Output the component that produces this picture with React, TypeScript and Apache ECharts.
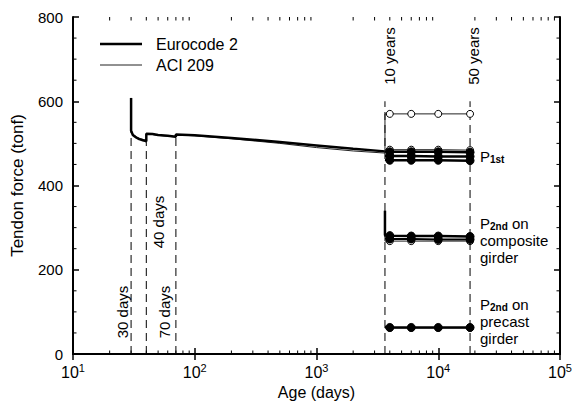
import { useEffect, useRef } from 'react';
import * as echarts from 'echarts';

// Main time-history curves (age in days, tendon force in tonf)
const ecAges = [30, 30, 31, 33, 35, 38, 40, 40, 45, 50, 60, 70, 70, 100, 200, 500, 1000, 2000, 3650];
const ecForce = [608, 530, 520, 514, 510, 507, 505, 523, 522, 520, 518, 516, 521, 519, 513, 503, 495, 487, 481];
const aciAges = [30, 30, 31, 33, 35, 38, 40, 40, 45, 50, 60, 70, 70, 100, 200, 500, 1000, 2000, 3650];
const aciForce = [608, 532, 522, 516, 512, 509, 507, 522, 521, 519, 517, 515, 520, 518, 511, 500, 490, 482, 477];

// Long-term points (10 years .. 50 years)
const longAges = [3650, 4000, 6000, 10000, 18250];
const aciUpper = [570, 570, 570, 570, 570];
const aciP1st = [485, 485, 485, 485, 484];
const ecP1stA = [481, 480, 480, 480, 479];
const ecP1stB = [470, 470, 470, 469, 469];
const ecP1stC = [461, 460, 460, 460, 459];
const ecCompositeStart = 340;
const ecComposite = [282, 281, 280, 280, 279];
const ecCompositeB = [274, 273, 273, 272, 272];
const aciComposite = [268, 268, 268, 268, 268];
const ecPrecast = [64, 63, 63, 63, 63];
const aciPrecast = [62, 62, 62, 62, 62];

// Dashed reference lines
const refAges = [30, 40, 70, 3650, 18250];
const refTops = [530, 505, 516, 600, 600];

// Axis ticks
const yTicks = [0, 200, 400, 600, 800];
const yMinorTicks = [50, 100, 150, 250, 300, 350, 450, 500, 550, 650, 700, 750];
const xMinorTicks = [
  20, 30, 40, 50, 60, 70, 80, 90,
  200, 300, 400, 500, 600, 700, 800, 900,
  2000, 3000, 4000, 5000, 6000, 7000, 8000, 9000,
  20000, 30000, 40000, 50000, 60000, 70000, 80000, 90000,
];

const FONT = '"Liberation Sans", Arial, sans-serif';

function longSeries(values: number[], start: number | null, filled: boolean, width: number) {
  const data: any[] = [];
  if (start !== null) data.push({ value: [longAges[0], start], symbol: 'none' });
  longAges.forEach((a, i) => {
    data.push(i === 0 ? { value: [a, values[i]], symbol: 'none' } : { value: [a, values[i]] });
  });
  return {
    type: 'line',
    data,
    symbol: 'circle',
    symbolSize: filled ? 8 : 7,
    showSymbol: true,
    lineStyle: { color: filled ? '#000' : '#222', width },
    itemStyle: filled
      ? { color: '#000', borderColor: '#000', borderWidth: 1 }
      : { color: '#fff', borderColor: '#000', borderWidth: 1 },
    z: filled ? 4 : 3,
  };
}

const richSub = {
  p: { fontFamily: FONT, fontSize: 15, fill: '#000', lineHeight: 16 },
  s: { fontFamily: FONT, fontSize: 10, fontWeight: 'bold', fill: '#000', lineHeight: 16, verticalAlign: 'bottom' },
};

export default function App() {
  const ref = useRef<HTMLDivElement>(null);
  useEffect(() => {
    if (!ref.current) return;
    const chart = echarts.init(ref.current, null, { renderer: 'svg' });

    const dashed = refAges.map((a, i) => ({
      type: 'line',
      data: [[a, 0], [a, refTops[i]]],
      symbol: 'none',
      lineStyle: { color: '#000', width: 1, type: [8, 5] },
      z: 1,
    }));

    const axisCommon = {
      type: 'log',
      logBase: 10,
      min: 10,
      max: 100000,
      axisLine: { show: true, lineStyle: { color: '#000', width: 2 } },
      axisTick: { show: true, inside: true, length: 6, lineStyle: { color: '#000', width: 1.5 } },
      splitLine: { show: false },
    };
    const yCommon = {
      type: 'value',
      min: 0,
      max: 800,
      interval: 200,
      axisLine: { show: true, lineStyle: { color: '#000', width: 2 } },
      axisTick: { show: true, inside: true, length: 6, lineStyle: { color: '#000', width: 1.5 } },
      splitLine: { show: false },
    };

    chart.setOption({
      animation: false,
      grid: { left: 73, right: 23, top: 17, bottom: 55 },
      xAxis: [
        {
          ...axisCommon,
          position: 'bottom',
          name: 'Age (days)',
          nameLocation: 'middle',
          nameGap: 24,
          nameTextStyle: { fontFamily: FONT, fontSize: 16, color: '#000' },
          axisLabel: {
            color: '#000',
            margin: 8,
            formatter: (v: number) => `10{sup|${Math.round(Math.log10(v))}}`,
            fontFamily: FONT,
            fontSize: 16,
            rich: {
              sup: { fontFamily: FONT, fontSize: 11, color: '#000', verticalAlign: 'bottom', padding: [0, 0, 9, 0] },
            },
          },
        },
        { ...axisCommon, position: 'top', axisLabel: { show: false } },
      ],
      yAxis: [
        {
          ...yCommon,
          position: 'left',
          name: 'Tendon force (tonf)',
          nameLocation: 'middle',
          nameGap: 47,
          nameTextStyle: { fontFamily: FONT, fontSize: 17, color: '#000' },
          axisLabel: {
            color: '#000',
            fontFamily: FONT,
            fontSize: 15,
            margin: 10,
            formatter: (v: number) => (yTicks.includes(v) ? String(v) : ''),
          },
        },
        { ...yCommon, position: 'right', axisLabel: { show: false } },
      ],
      series: [
        ...dashed,
        {
          type: 'custom',
          data: xMinorTicks.map((v) => [v]),
          renderItem: (_p: any, api: any) => {
            const v = api.value(0);
            const b = api.coord([v, 0]);
            const t = api.coord([v, 800]);
            return {
              type: 'group',
              children: [
                { type: 'line', shape: { x1: b[0], y1: b[1], x2: b[0], y2: b[1] - 3.5 }, style: { stroke: '#000', lineWidth: 1 } },
                { type: 'line', shape: { x1: t[0], y1: t[1], x2: t[0], y2: t[1] + 3.5 }, style: { stroke: '#000', lineWidth: 1 } },
              ],
            };
          },
          z: 5,
        },
        {
          type: 'custom',
          data: yMinorTicks.map((v) => [10, v]),
          renderItem: (_p: any, api: any) => {
            const v = api.value(1);
            const l = api.coord([10, v]);
            const r = api.coord([100000, v]);
            return {
              type: 'group',
              children: [
                { type: 'line', shape: { x1: l[0], y1: l[1], x2: l[0] + 3.5, y2: l[1] }, style: { stroke: '#000', lineWidth: 1 } },
                { type: 'line', shape: { x1: r[0], y1: r[1], x2: r[0] - 3.5, y2: r[1] }, style: { stroke: '#000', lineWidth: 1 } },
              ],
            };
          },
          z: 5,
        },
        {
          type: 'line',
          name: 'ACI 209',
          data: aciAges.map((a, i) => [a, aciForce[i]]),
          symbol: 'none',
          lineStyle: { color: '#222', width: 1 },
          z: 2,
        },
        {
          type: 'line',
          name: 'Eurocode 2',
          data: ecAges.map((a, i) => [a, ecForce[i]]),
          symbol: 'none',
          lineStyle: { color: '#000', width: 2.5 },
          z: 3,
        },
        longSeries(aciUpper, aciForce[aciForce.length - 1], false, 1),
        longSeries(aciP1st, null, false, 1),
        longSeries(ecP1stA, null, true, 2.5),
        longSeries(ecP1stB, null, true, 2.5),
        longSeries(ecP1stC, null, true, 2.5),
        longSeries(ecComposite, ecCompositeStart, true, 2.5),
        longSeries(ecCompositeB, null, true, 2),
        longSeries(aciComposite, ecCompositeStart, false, 1),
        longSeries(ecPrecast, null, true, 2.5),
        longSeries(aciPrecast, null, false, 1),
      ],
      graphic: [
        { type: 'line', shape: { x1: 100, y1: 44, x2: 142, y2: 44 }, style: { stroke: '#000', lineWidth: 2.5 } },
        { type: 'line', shape: { x1: 100, y1: 65, x2: 142, y2: 65 }, style: { stroke: '#222', lineWidth: 1 } },
        { type: 'text', x: 156, y: 44, style: { text: 'Eurocode 2', font: `16px ${FONT}`, fill: '#000', verticalAlign: 'middle' } },
        { type: 'text', x: 156, y: 65, style: { text: 'ACI 209', font: `16px ${FONT}`, fill: '#000', verticalAlign: 'middle' } },
        // rotated labels
        { type: 'text', x: 122, y: 312, rotation: Math.PI / 2, style: { text: '30 days', font: `15px ${FONT}`, fill: '#000', align: 'center', verticalAlign: 'middle' } },
        { type: 'text', x: 158, y: 222, rotation: Math.PI / 2, style: { text: '40 days', font: `15px ${FONT}`, fill: '#000', align: 'center', verticalAlign: 'middle' } },
        { type: 'text', x: 164, y: 312, rotation: Math.PI / 2, style: { text: '70 days', font: `15px ${FONT}`, fill: '#000', align: 'center', verticalAlign: 'middle' } },
        { type: 'text', x: 389, y: 56, rotation: Math.PI / 2, style: { text: '10 years', font: `15px ${FONT}`, fill: '#000', align: 'center', verticalAlign: 'middle' } },
        { type: 'text', x: 473, y: 56, rotation: Math.PI / 2, style: { text: '50 years', font: `15px ${FONT}`, fill: '#000', align: 'center', verticalAlign: 'middle' } },
        // annotations
        { type: 'text', x: 480, y: 156, style: { text: '{p|P}{s|1st}', verticalAlign: 'middle', rich: richSub } },
        { type: 'text', x: 480, y: 223, style: { text: '{p|P}{s|2nd}{p| on}', verticalAlign: 'middle', rich: richSub } },
        { type: 'text', x: 480, y: 240, style: { text: 'composite', font: `15px ${FONT}`, fill: '#000', verticalAlign: 'middle' } },
        { type: 'text', x: 480, y: 257, style: { text: 'girder', font: `15px ${FONT}`, fill: '#000', verticalAlign: 'middle' } },
        { type: 'text', x: 480, y: 304, style: { text: '{p|P}{s|2nd}{p| on}', verticalAlign: 'middle', rich: richSub } },
        { type: 'text', x: 480, y: 321, style: { text: 'precast', font: `15px ${FONT}`, fill: '#000', verticalAlign: 'middle' } },
        { type: 'text', x: 480, y: 338, style: { text: 'girder', font: `15px ${FONT}`, fill: '#000', verticalAlign: 'middle' } },
      ],
    });
    return () => chart.dispose();
  }, []);
  return (
    <div
      ref={ref}
      style={{ position: 'fixed', left: 0, top: 0, width: 583, height: 409, background: '#fff' }}
    />
  );
}
